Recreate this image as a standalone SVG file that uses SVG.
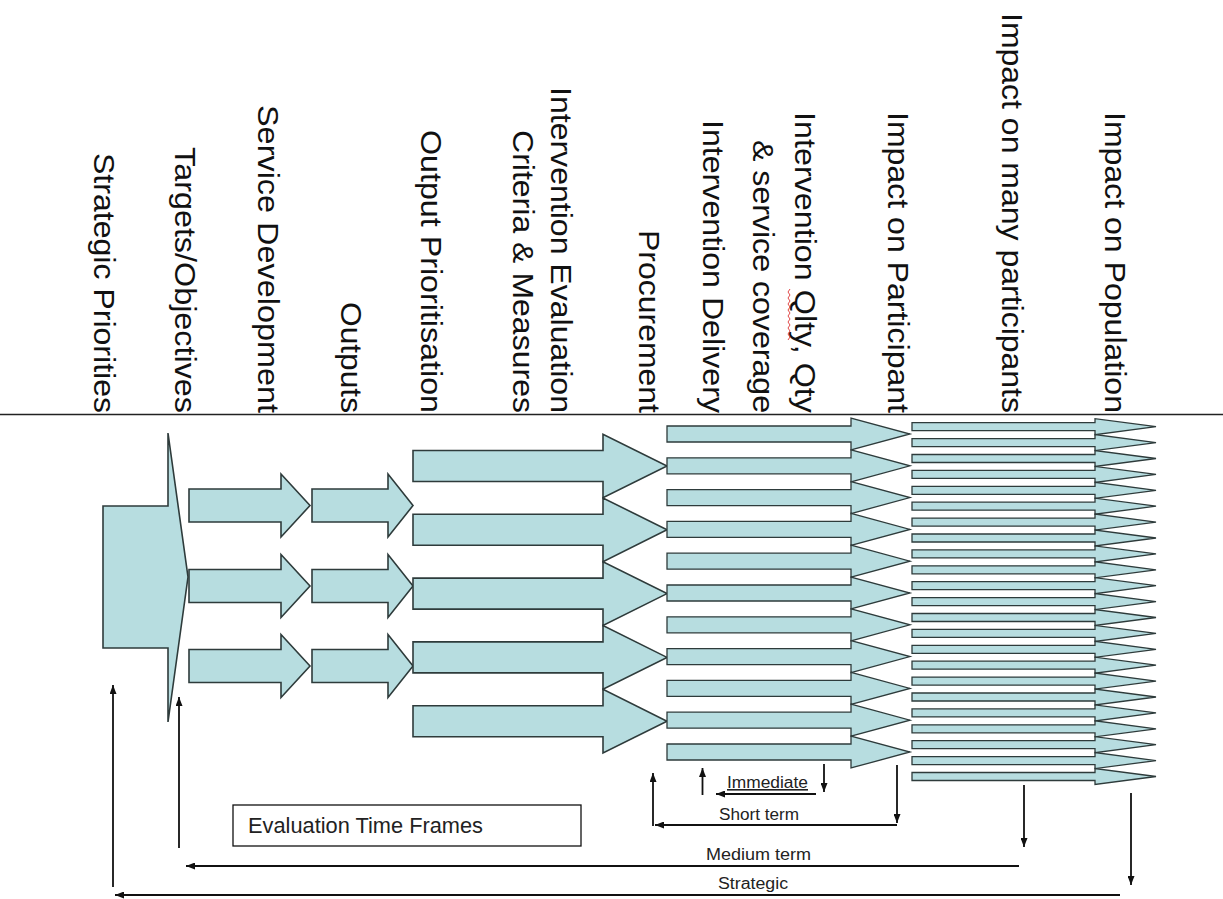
<svg xmlns="http://www.w3.org/2000/svg" xmlns:xlink="http://www.w3.org/1999/xlink" width="1223" height="899" viewBox="0 0 1223 899">
<style>
  .lbl { font-family: "Liberation Sans", Arial, sans-serif; font-size: 30px; fill: #111; }
  .small { font-family: "Liberation Sans", Arial, sans-serif; font-size: 16px; fill: #222; }
  .box { font-family: "Liberation Sans", Arial, sans-serif; font-size: 22px; fill: #222; }
  .shape { fill: #B7DDE0; stroke: #2E3B3B; stroke-width: 1.6; stroke-linejoin: miter; }
  .thin { fill: #B7DDE0; stroke: #2E3B3B; stroke-width: 1.3; stroke-linejoin: miter; }
  .conn { fill: none; stroke: #111; stroke-width: 1.8; }
</style>
<defs>
  <marker id="ah" markerUnits="userSpaceOnUse" markerWidth="9" markerHeight="7" viewBox="0 0 9 7" refX="9" refY="3.5" orient="auto">
    <path d="M0,0 L9,3.5 L0,7 Z" fill="#111"/>
  </marker>
  <path id="arrA" d="M0,-16.5 H92 V-31.5 L121,0 L92,31.5 V16.5 H0 Z"/>
  <path id="arrB" d="M0,-16.5 H76 V-31.5 L101,0 L76,31.5 V16.5 H0 Z"/>
  <path id="arrC" d="M0,-15.5 H190 V-31.8 L254,0 L190,31.8 V15.5 H0 Z"/>
  <path id="arrD" d="M0,-8 H184 V-16 L243,0 L184,16 V8 H0 Z"/>
  <path id="arrE" d="M0,-4 H183 V-8 L244,0 L183,8 V4 H0 Z"/>
</defs>
<rect width="1223" height="899" fill="#fff"/>

<line x1="0" y1="414.5" x2="1223" y2="414.5" stroke="#222" stroke-width="1.5"/>

<g id="strategic-priorities">
  <text class="lbl" transform="translate(94,413) rotate(90)" text-anchor="end" textLength="260" lengthAdjust="spacingAndGlyphs">Strategic Priorities</text>
  <path class="shape" d="M103,506 H168 V433 L188,577 L168,722 V648 H103 Z"/>
</g>

<g id="targets-objectives">
  <text class="lbl" transform="translate(175,413) rotate(90)" text-anchor="end" textLength="266" lengthAdjust="spacingAndGlyphs">Targets/Objectives</text>
</g>

<g id="service-development">
  <text class="lbl" transform="translate(258,413) rotate(90)" text-anchor="end" textLength="308" lengthAdjust="spacingAndGlyphs">Service Development</text>
  <use xlink:href="#arrA" class="shape" x="189" y="505.5"/>
  <use xlink:href="#arrA" class="shape" x="189" y="586"/>
  <use xlink:href="#arrA" class="shape" x="189" y="666"/>
</g>

<g id="outputs">
  <text class="lbl" transform="translate(341,413) rotate(90)" text-anchor="end" textLength="111" lengthAdjust="spacingAndGlyphs">Outputs</text>
  <use xlink:href="#arrB" class="shape" x="312" y="505.5"/>
  <use xlink:href="#arrB" class="shape" x="312" y="586"/>
  <use xlink:href="#arrB" class="shape" x="312" y="666"/>
</g>

<g id="output-prioritisation">
  <text class="lbl" transform="translate(421,413) rotate(90)" text-anchor="end" textLength="283" lengthAdjust="spacingAndGlyphs">Output Prioritisation</text>
  <use xlink:href="#arrC" class="shape" x="413" y="466"/>
  <use xlink:href="#arrC" class="shape" x="413" y="529.8"/>
  <use xlink:href="#arrC" class="shape" x="413" y="593.6"/>
  <use xlink:href="#arrC" class="shape" x="413" y="657.4"/>
  <use xlink:href="#arrC" class="shape" x="413" y="721.2"/>
</g>

<g id="intervention-evaluation">
  <text class="lbl" transform="translate(551,413) rotate(90)" text-anchor="end" textLength="326" lengthAdjust="spacingAndGlyphs">Intervention Evaluation</text>
  <text class="lbl" transform="translate(513,413) rotate(90)" text-anchor="end" textLength="283" lengthAdjust="spacingAndGlyphs">Criteria &amp; Measures</text>
</g>

<g id="procurement">
  <text class="lbl" transform="translate(639,413) rotate(90)" text-anchor="end" textLength="183" lengthAdjust="spacingAndGlyphs">Procurement</text>
</g>

<g id="intervention-delivery">
  <text class="lbl" transform="translate(703,413) rotate(90)" text-anchor="end" textLength="293" lengthAdjust="spacingAndGlyphs">Intervention Delivery</text>
  <use xlink:href="#arrD" class="thin" x="667" y="434"/>
  <use xlink:href="#arrD" class="thin" x="667" y="465.8"/>
  <use xlink:href="#arrD" class="thin" x="667" y="497.6"/>
  <use xlink:href="#arrD" class="thin" x="667" y="529.4"/>
  <use xlink:href="#arrD" class="thin" x="667" y="561.2"/>
  <use xlink:href="#arrD" class="thin" x="667" y="593"/>
  <use xlink:href="#arrD" class="thin" x="667" y="624.8"/>
  <use xlink:href="#arrD" class="thin" x="667" y="656.6"/>
  <use xlink:href="#arrD" class="thin" x="667" y="688.4"/>
  <use xlink:href="#arrD" class="thin" x="667" y="720.2"/>
  <use xlink:href="#arrD" class="thin" x="667" y="752"/>
</g>

<g id="intervention-quality">
  <text class="lbl" transform="translate(795,413) rotate(90)" text-anchor="end" textLength="301" lengthAdjust="spacingAndGlyphs">Intervention Qlty, Qty</text>
  <text class="lbl" transform="translate(753,413) rotate(90)" text-anchor="end" textLength="273" lengthAdjust="spacingAndGlyphs">&amp; service coverage</text>
  <path d="M790,289 l-2,3 l2,3 l-2,3 l2,3 l-2,3 l2,3 l-2,3 l2,3 l-2,3 l2,3 l-2,3 l2,3 l-2,3 l2,3 l-2,3 l2,3 l-2,3" fill="none" stroke="#d33" stroke-width="0.9"/>
</g>

<g id="impact-participant">
  <text class="lbl" transform="translate(888,413) rotate(90)" text-anchor="end" textLength="301" lengthAdjust="spacingAndGlyphs">Impact on Participant</text>
</g>

<g id="impact-many">
  <text class="lbl" transform="translate(1002,413) rotate(90)" text-anchor="end" textLength="400" lengthAdjust="spacingAndGlyphs">Impact on many participants</text>
  <use xlink:href="#arrE" class="thin" x="912" y="426.7"/>
  <use xlink:href="#arrE" class="thin" x="912" y="442.6"/>
  <use xlink:href="#arrE" class="thin" x="912" y="458.5"/>
  <use xlink:href="#arrE" class="thin" x="912" y="474.4"/>
  <use xlink:href="#arrE" class="thin" x="912" y="490.3"/>
  <use xlink:href="#arrE" class="thin" x="912" y="506.2"/>
  <use xlink:href="#arrE" class="thin" x="912" y="522.1"/>
  <use xlink:href="#arrE" class="thin" x="912" y="538"/>
  <use xlink:href="#arrE" class="thin" x="912" y="553.9"/>
  <use xlink:href="#arrE" class="thin" x="912" y="569.8"/>
  <use xlink:href="#arrE" class="thin" x="912" y="585.7"/>
  <use xlink:href="#arrE" class="thin" x="912" y="601.6"/>
  <use xlink:href="#arrE" class="thin" x="912" y="617.5"/>
  <use xlink:href="#arrE" class="thin" x="912" y="633.4"/>
  <use xlink:href="#arrE" class="thin" x="912" y="649.3"/>
  <use xlink:href="#arrE" class="thin" x="912" y="665.2"/>
  <use xlink:href="#arrE" class="thin" x="912" y="681.1"/>
  <use xlink:href="#arrE" class="thin" x="912" y="697"/>
  <use xlink:href="#arrE" class="thin" x="912" y="712.9"/>
  <use xlink:href="#arrE" class="thin" x="912" y="728.8"/>
  <use xlink:href="#arrE" class="thin" x="912" y="744.7"/>
  <use xlink:href="#arrE" class="thin" x="912" y="760.6"/>
  <use xlink:href="#arrE" class="thin" x="912" y="776.5"/>
</g>

<g id="impact-population">
  <text class="lbl" transform="translate(1105,413) rotate(90)" text-anchor="end" textLength="301" lengthAdjust="spacingAndGlyphs">Impact on Population</text>
</g>

<g id="evaluation-time-frames">
  <rect x="233" y="805" width="348" height="41" fill="#fff" stroke="#111" stroke-width="1.3"/>
  <text class="box" x="248" y="833" textLength="235" lengthAdjust="spacingAndGlyphs">Evaluation Time Frames</text>
</g>

<g id="connectors">
  <!-- Immediate -->
  <line class="conn" x1="702.5" y1="795" x2="702.5" y2="768" marker-end="url(#ah)"/>
  <line class="conn" x1="824" y1="764" x2="824" y2="792" marker-end="url(#ah)"/>
  <line class="conn" x1="816" y1="794" x2="716" y2="794" marker-end="url(#ah)"/>
  <!-- Short term -->
  <line class="conn" x1="653" y1="826" x2="653" y2="773" marker-end="url(#ah)"/>
  <line class="conn" x1="897" y1="765" x2="897" y2="823" marker-end="url(#ah)"/>
  <line class="conn" x1="897" y1="825" x2="655" y2="825" marker-end="url(#ah)"/>
  <!-- Medium term -->
  <line class="conn" x1="179" y1="848" x2="179" y2="697" marker-end="url(#ah)"/>
  <line class="conn" x1="1024" y1="785" x2="1024" y2="847" marker-end="url(#ah)"/>
  <line class="conn" x1="1019" y1="866" x2="186" y2="866" marker-end="url(#ah)"/>
  <!-- Strategic -->
  <line class="conn" x1="113" y1="887" x2="113" y2="685" marker-end="url(#ah)"/>
  <line class="conn" x1="1131" y1="793" x2="1131" y2="885" marker-end="url(#ah)"/>
  <line class="conn" x1="1120" y1="895" x2="115" y2="895" marker-end="url(#ah)"/>

  <text class="small" x="727" y="788" textLength="81" lengthAdjust="spacingAndGlyphs" text-decoration="underline">Immediate</text>
  <text class="small" x="719" y="820" textLength="80" lengthAdjust="spacingAndGlyphs">Short term</text>
  <text class="small" x="706" y="860" textLength="105" lengthAdjust="spacingAndGlyphs">Medium term</text>
  <text class="small" x="718" y="889" textLength="70" lengthAdjust="spacingAndGlyphs">Strategic</text>
</g>
</svg>
